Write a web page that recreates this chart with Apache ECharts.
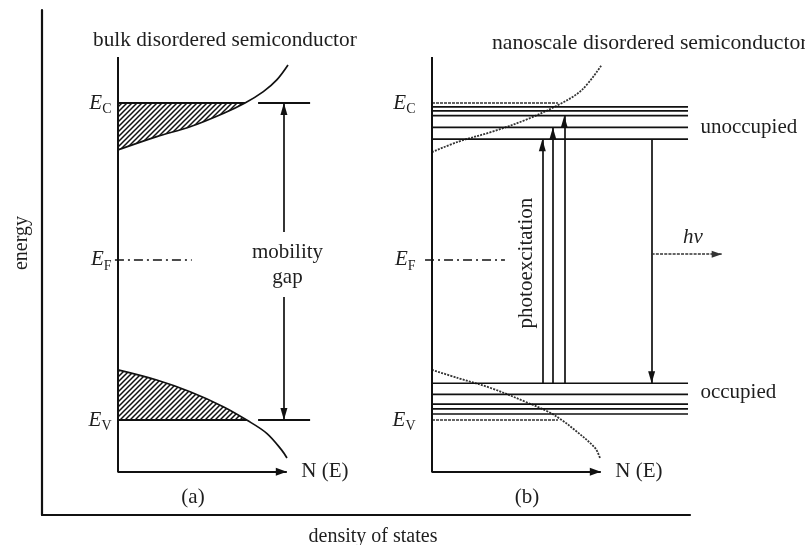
<!DOCTYPE html>
<html><head><meta charset="utf-8">
<script src="https://cdn.jsdelivr.net/npm/echarts@6/dist/echarts.min.js"></script>
<style>html,body{margin:0;padding:0;background:#fff}#c{width:805px;height:545px}</style>
</head><body><div id="c"></div>
<script>
// ---------------- data (energy in units of the mobility gap, E_V = 0, E_C = 1; DOS in arbitrary units) ----------------
const energyRange = [-0.17, 1.15];
const dosRangeA = [-1, 12];
const dosRangeB = [-1, 18];
const energyAxisTop = 1.145;
const dosAxisLevel = -0.163;
const dosAxisEnd = 9.93;
const bandEdgeSubs = ['C', 'F', 'V'];
const bandEdgeEnergies = [1.0, 0.505, 0.0];

// (a) bulk disordered semiconductor: band-tail density of states
const bulkCondDOS = [0, 2.28, 4.24, 6.19, 7.47, 8.55, 9.34, 10.0];
const bulkCondE   = [0.852, 0.894, 0.925, 0.967, 1.0, 1.036, 1.073, 1.12];
const bulkValDOS  = [0, 2.28, 4.24, 6.19, 7.57, 8.75, 9.63, 9.94];
const bulkValE    = [0.158, 0.126, 0.089, 0.042, 0.0, -0.042, -0.095, -0.12];
const gapArrowDOS = 9.76;
const gapArrowFrom = [0.593, 0.388];   // upper / lower arrow starts
const gapTickDOS = [8.24, 11.3];
const gapLabelLines = ['mobility', 'gap'];
const gapLabelDOS = 9.97;
const gapLabelE = [0.527, 0.451];
const fermiDashA = [-0.18, 4.34];

// (b) nanoscale disordered semiconductor
const nanoCondDOS = [0, 1.55, 3.51, 5.47, 7.43, 8.81, 9.98];
const nanoCondE   = [0.845, 0.878, 0.909, 0.946, 0.994, 1.041, 1.12];
const nanoValDOS  = [0, 1.55, 3.51, 5.47, 6.84, 7.63, 8.41, 9.59, 9.88];
const nanoValE    = [0.158, 0.132, 0.100, 0.058, 0.026, 0.0, -0.032, -0.088, -0.12];
const unoccupiedLevels = [0.988, 0.975, 0.960, 0.923, 0.886];
const occupiedLevels   = [0.116, 0.081, 0.050, 0.035, 0.019];
const levelExtentDOS = 15.06;
const edgeDottedExtentDOS = 7.41;
const excitationDOS = [6.49, 7.11, 7.78];
const excitationTargetE = [0.886, 0.923, 0.960];
const emissionDOS = 12.92;
const photonE = 0.523;
const photonEndDOS = 17.04;
const fermiDashB = [-0.41, 4.29];
const photonLabel = [15.35, 0.577];
const levelLabelDOS = 15.76;
const levelLabelE = [0.924, 0.088];
const excitationLabel = [5.53, 0.495];

// ---------------- helpers ----------------
const INK = '#111';
const TXT = '#1e1e1e';
const SERIF = '"Liberation Serif", "Times New Roman", serif';
const zip = (xs, ys) => xs.map((x, i) => [x, ys[i]]);

function hatchCanvas() {
  const n = 5;
  const c = document.createElement('canvas');
  c.width = n; c.height = n;
  const g = c.getContext('2d');
  g.fillStyle = '#fff'; g.fillRect(0, 0, n, n);
  g.strokeStyle = '#111'; g.lineWidth = 1.5;
  g.beginPath();
  g.moveTo(-1, n + 1); g.lineTo(n + 1, -1);
  g.moveTo(-1, 1); g.lineTo(1, -1);
  g.moveTo(n - 1, n + 1); g.lineTo(n + 1, n - 1);
  g.stroke();
  return c;
}
const hatch = { image: hatchCanvas(), repeat: 'repeat' };

function line(grid, pts, style, extra) {
  return Object.assign({
    type: 'line', xAxisIndex: grid, yAxisIndex: grid, data: pts, symbol: 'none',
    silent: true, clip: false, animation: false,
    lineStyle: Object.assign({ color: INK, width: 1.7 }, style || {})
  }, extra || {});
}
function arrow(grid, from, to, style, size) {
  const sz = size || [7, 12];
  return {
    type: 'line', xAxisIndex: grid, yAxisIndex: grid, data: [], silent: true, animation: false,
    markLine: {
      silent: true, animation: false, symbol: ['none', 'triangle'], symbolSize: sz,
      symbolOffset: [0, [0, sz[1] / 2]],
      label: { show: false }, emphasis: { disabled: true },
      lineStyle: Object.assign({ color: INK, width: 1.7, type: 'solid' }, style || {}),
      data: [[{ coord: from }, { coord: to }]]
    }
  };
}
function text(grid, x, y, fmt, label) {
  return {
    type: 'scatter', xAxisIndex: grid, yAxisIndex: grid, silent: true, animation: false, clip: false,
    symbolSize: 1, itemStyle: { color: 'rgba(0,0,0,0)', opacity: 1 }, emphasis: { disabled: true },
    data: [[x, y]],
    label: Object.assign({ show: true, formatter: fmt, color: TXT, opacity: 1, fontFamily: SERIF, fontSize: 21, position: 'inside' }, label || {})
  };
}
const edgeRich = {
  e: { fontFamily: SERIF, fontStyle: 'italic', fontSize: 21, color: TXT },
  s: { fontFamily: SERIF, fontSize: 14, color: TXT, padding: [12, 0, 0, 0] }
};
function edgeLabels(grid, dist) {
  return bandEdgeSubs.map((s, i) => text(grid, 0, bandEdgeEnergies[i], '{e|E}{s|' + s + '}',
    { position: 'left', distance: dist, rich: edgeRich }));
}
function panelFrame(grid) {
  return [
    line(grid, [[0, energyAxisTop], [0, dosAxisLevel - 0.003]], { width: 2 }),
    arrow(grid, [0, dosAxisLevel], [dosAxisEnd, dosAxisLevel], { width: 2 }, [8, 11]),
    text(grid, dosAxisEnd, dosAxisLevel, 'N (E)', { position: 'right', distance: 14 })
  ];
}
const hiddenAxis = (g, range) => ({ gridIndex: g, type: 'value', min: range[0], max: range[1], show: false });

const dotted = { type: [2, 1.2], width: 1.8, color: '#333' };
const dashDot = { type: [9, 4, 2, 4], width: 1.5 };

const series = [];
// ---- panel (a)
series.push(line(0, zip(bulkCondDOS.slice(0, 5), bulkCondE.slice(0, 5)), { width: 0 },
  { smooth: 0.35, areaStyle: { color: hatch, opacity: 1, origin: bandEdgeEnergies[0] } }));
series.push(line(0, zip(bulkValDOS.slice(0, 5), bulkValE.slice(0, 5)), { width: 0 },
  { smooth: 0.35, areaStyle: { color: hatch, opacity: 1, origin: bandEdgeEnergies[2] } }));
series.push(line(0, zip(bulkCondDOS, bulkCondE), {}, { smooth: 0.35 }));
series.push(line(0, zip(bulkValDOS, bulkValE), {}, { smooth: 0.35 }));
series.push(line(0, [[0, bandEdgeEnergies[0]], [bulkCondDOS[4], bandEdgeEnergies[0]]], { width: 2 }));
series.push(line(0, [[0, bandEdgeEnergies[2]], [bulkValDOS[4], bandEdgeEnergies[2]]], { width: 2 }));
series.push(line(0, [[fermiDashA[0], bandEdgeEnergies[1]], [fermiDashA[1], bandEdgeEnergies[1]]], dashDot));
series.push(line(0, [[gapTickDOS[0], bandEdgeEnergies[0]], [gapTickDOS[1], bandEdgeEnergies[0]]], { width: 2 }));
series.push(line(0, [[gapTickDOS[0], bandEdgeEnergies[2]], [gapTickDOS[1], bandEdgeEnergies[2]]], { width: 2 }));
series.push(arrow(0, [gapArrowDOS, gapArrowFrom[0]], [gapArrowDOS, bandEdgeEnergies[0]]));
series.push(arrow(0, [gapArrowDOS, gapArrowFrom[1]], [gapArrowDOS, bandEdgeEnergies[2]]));
gapLabelLines.forEach((t, i) => series.push(text(0, gapLabelDOS, gapLabelE[i], t)));
edgeLabels(0, 6).forEach(s => series.push(s));
panelFrame(0).forEach(s => series.push(s));

// ---- panel (b)
series.push(line(1, zip(nanoCondDOS, nanoCondE), dotted, { smooth: 0.35 }));
series.push(line(1, zip(nanoValDOS, nanoValE), dotted, { smooth: 0.35 }));
series.push(line(1, [[0, bandEdgeEnergies[0]], [edgeDottedExtentDOS, bandEdgeEnergies[0]]], { type: [3, 1], width: 1.6, color: '#333' }));
series.push(line(1, [[0, bandEdgeEnergies[2]], [edgeDottedExtentDOS, bandEdgeEnergies[2]]], { type: [3, 1], width: 1.6, color: '#333' }));
unoccupiedLevels.concat(occupiedLevels).forEach(e =>
  series.push(line(1, [[0, e], [levelExtentDOS, e]], { width: 1.7 })));
series.push(line(1, [[fermiDashB[0], bandEdgeEnergies[1]], [fermiDashB[1], bandEdgeEnergies[1]]], dashDot));
excitationDOS.forEach((x, i) =>
  series.push(arrow(1, [x, occupiedLevels[0]], [x, excitationTargetE[i]])));
series.push(arrow(1, [emissionDOS, unoccupiedLevels[4]], [emissionDOS, occupiedLevels[0]]));
series.push(arrow(1, [emissionDOS, photonE], [photonEndDOS, photonE], { type: [3, 1.2], color: '#333' }, [7, 10]));
series.push(text(1, photonLabel[0], photonLabel[1], 'hν', { fontStyle: 'italic' }));
series.push(text(1, levelLabelDOS, levelLabelE[0], 'unoccupied', { position: 'right', distance: 0 }));
series.push(text(1, levelLabelDOS, levelLabelE[1], 'occupied', { position: 'right', distance: 0 }));
series.push(text(1, excitationLabel[0], excitationLabel[1], 'photoexcitation', { rotate: 90 }));
edgeLabels(1, 16).forEach(s => series.push(s));
panelFrame(1).forEach(s => series.push(s));

// outer frame: dummy series so the third grid is used
series.push({ type: 'line', xAxisIndex: 2, yAxisIndex: 2, data: [], silent: true });

function gtext(x, y, t, extra) {
  const ex = extra || {};
  return {
    type: 'text', x: x, y: y, silent: true, rotation: ex.rotation || 0,
    style: Object.assign({ text: t, font: '21px ' + SERIF, fill: TXT, textAlign: 'center', textVerticalAlign: 'middle',
                           align: 'center', verticalAlign: 'middle' }, ex.style || {})
  };
}

const chart = echarts.init(document.getElementById('c'), null, { renderer: 'canvas' });
const gridTop = 55.45, gridHeight = 418.44;
chart.setOption({
  animation: false,
  backgroundColor: '#fff',
  grid: [
    { left: 101, top: gridTop, width: 221, height: gridHeight },
    { left: 415, top: gridTop, width: 323, height: gridHeight },
    { left: 42, top: 10, width: 648, height: 505 }
  ],
  xAxis: [hiddenAxis(0, dosRangeA), hiddenAxis(1, dosRangeB),
    { gridIndex: 2, type: 'value', min: 0, max: 1, axisLine: { show: true, onZero: false, lineStyle: { color: INK, width: 2.2 } },
      axisTick: { show: false }, axisLabel: { show: false }, splitLine: { show: false } }],
  yAxis: [hiddenAxis(0, energyRange), hiddenAxis(1, energyRange),
    { gridIndex: 2, type: 'value', min: 0, max: 1, axisLine: { show: true, onZero: false, lineStyle: { color: INK, width: 2.2 } },
      axisTick: { show: false }, axisLabel: { show: false }, splitLine: { show: false } }],
  graphic: [
    gtext(93, 40, 'bulk disordered semiconductor', { style: { textAlign: 'left', align: 'left', font: '21.3px ' + SERIF } }),
    gtext(492, 43, 'nanoscale disordered semiconductor', { style: { textAlign: 'left', align: 'left', font: '21.7px ' + SERIF } }),
    gtext(193, 497, '(a)'),
    gtext(527, 497, '(b)'),
    gtext(373, 537, 'density of states', { style: { font: '20px ' + SERIF } }),
    gtext(22, 243, 'energy', { rotation: Math.PI / 2, style: { font: '20px ' + SERIF } })
  ],
  series: series
});
</script>
</body></html>
